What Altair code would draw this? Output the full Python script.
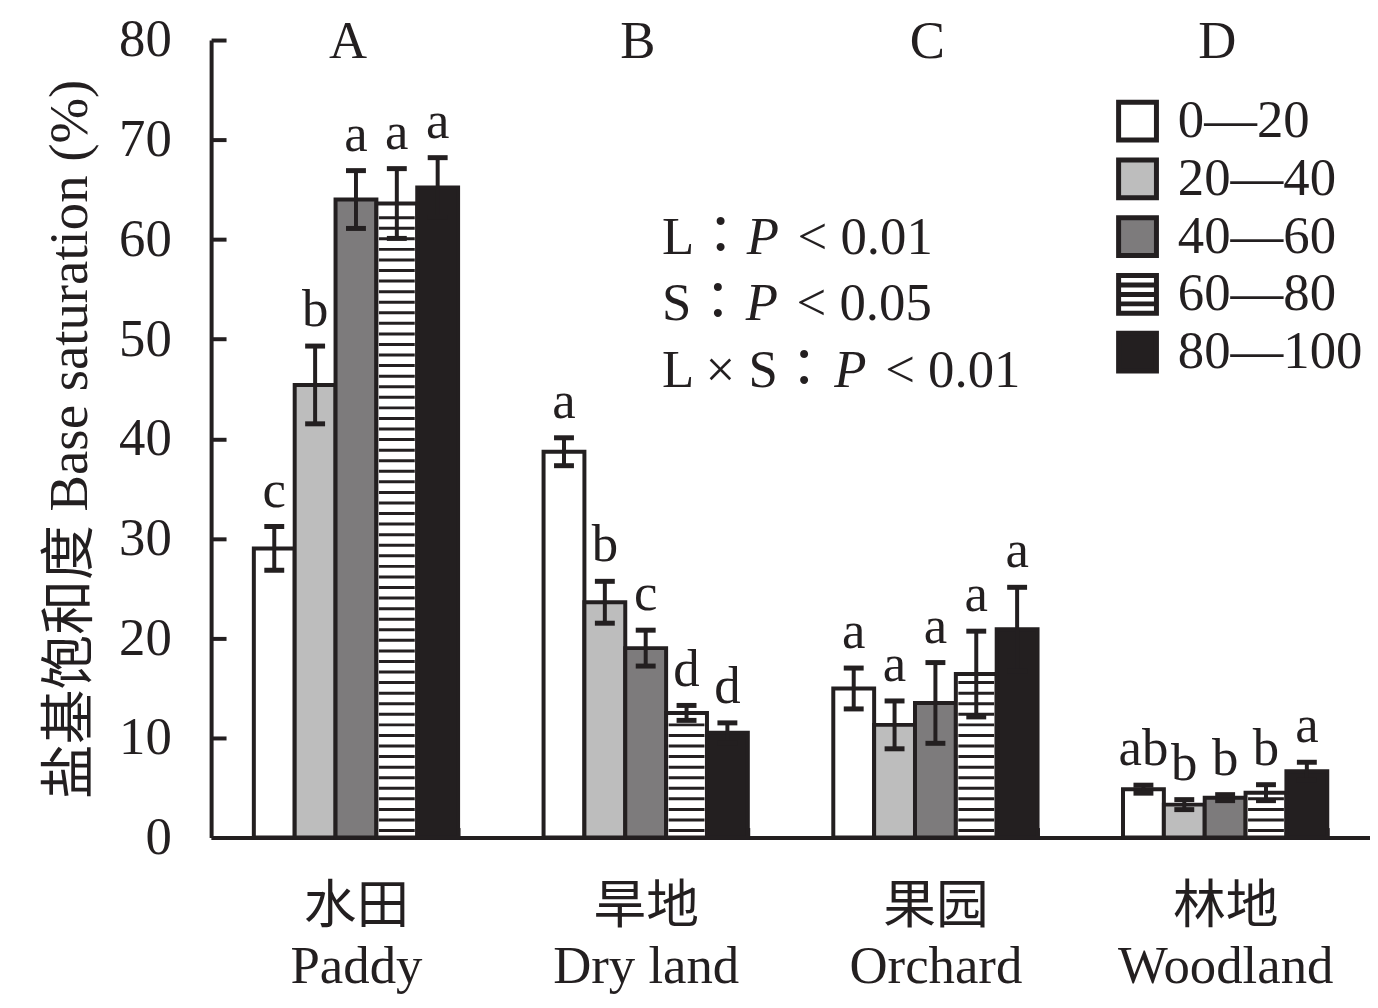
import altair as alt
import pandas as pd
import numpy as np

# ---------------- data ----------------
land_cn = ["水田", "旱地", "果园", "林地"]
land_en = ["Paddy", "Dry land", "Orchard", "Woodland"]
panel = ["A", "B", "C", "D"]
depths = ["0—20", "20—40", "40—60", "60—80", "80—100"]

paddy_mean = [29.0, 45.4, 64.0, 63.6, 65.2]
paddy_err = [2.2, 3.9, 2.9, 3.5, 3.0]
paddy_sig = ["c", "b", "a", "a", "a"]

dry_mean = [38.7, 23.6, 19.0, 12.5, 10.5]
dry_err = [1.4, 2.1, 1.8, 0.75, 1.0]
dry_sig = ["a", "b", "c", "d", "d"]

orch_mean = [14.95, 11.3, 13.5, 16.4, 20.9]
orch_err = [2.05, 2.4, 4.05, 4.3, 4.2]
orch_sig = ["a", "a", "a", "a", "a"]

wood_mean = [4.85, 3.3, 4.0, 4.5, 6.65]
wood_err = [0.4, 0.5, 0.3, 0.8, 0.9]
wood_sig = ["ab", "b", "b", "b", "a"]

y_ticks = [0, 10, 20, 30, 40, 50, 60, 70, 80]

# ---------------- styling ----------------
INK = "#231f20"
fill_colors = ["#ffffff", "#bdbdbd", "#7d7b7c", "#ffffff", INK]
sq = "M-1,-1H1V1H-1Z"
hatch_sq = "M-1,-1H1V1H-1Z M-1,-0.5H1 M-1,0H1 M-1,0.5H1"
shapes = [sq, sq, sq, hatch_sq, sq]
FONT = "Liberation Serif, Times New Roman, Noto Sans CJK SC"
FONT_ANN = "Liberation Serif, Times New Roman, Noto Sans CJK JP"
FS = 53

W, H = 1164, 801

labels = [f"{c}|{e}" for c, e in zip(land_cn, land_en)]
means = [paddy_mean, dry_mean, orch_mean, wood_mean]
errs = [paddy_err, dry_err, orch_err, wood_err]
sigs = [paddy_sig, dry_sig, orch_sig, wood_sig]

rows = []
for lab, m, e, s in zip(labels, means, errs, sigs):
    for d, mv, ev, sv in zip(depths, m, e, s):
        rows.append({"land": lab, "depth": d, "mean": mv, "lo": mv - ev, "hi": mv + ev, "sig": sv})
df = pd.DataFrame(rows)

# hatch stripes for the 60—80 layer (style only: derived from bar heights)
stripe_rows = []
for lab, m in zip(labels, means):
    v = m[3]
    for yv in np.arange(0.7, v - 0.6, 1.06):
        stripe_rows.append({"land": lab, "depth": depths[3], "y": float(yv)})
stripes_df = pd.DataFrame(stripe_rows)

panel_df = pd.DataFrame({"land": labels, "panel": panel})

xscale = alt.Scale(domain=labels, paddingInner=0.295, paddingOuter=0.1475)
xoff = alt.XOffset("depth:N", scale=alt.Scale(domain=depths, paddingInner=0, paddingOuter=0))
yscale = alt.Scale(domain=[0, 80], nice=False)

legend_def = alt.Legend(title=None, orient="none", legendX=904, legendY=55,
                        labelFontSize=FS, labelFont=FONT, labelColor=INK,
                        symbolSize=1444, labelOffset=14, rowPadding=-1,
                        padding=0, symbolOpacity=1, labelLimit=0,
                        symbolStrokeWidth=5)
fill_scale = alt.Scale(domain=depths, range=fill_colors)

base = alt.Chart(df)

# legend carrier (invisible points; the legend draws the symbols)
legend_pts = base.mark_point(filled=False, opacity=0, stroke=INK, strokeWidth=5).encode(
    x=alt.X("land:N", scale=xscale, sort=labels, axis=None),
    xOffset=xoff,
    y=alt.Y("mean:Q", scale=yscale, axis=None),
    fill=alt.Fill("depth:N", scale=fill_scale, legend=legend_def),
    shape=alt.Shape("depth:N", scale=alt.Scale(domain=depths, range=shapes),
                    legend=legend_def),
)

bars = base.mark_bar(stroke=INK, strokeWidth=4).encode(
    x=alt.X("land:N", scale=xscale, sort=labels, title=None,
            axis=alt.Axis(labelExpr="split(datum.label, '|')", labelAngle=0,
                          ticks=True, tickBand="extent", tickSize=alt.ExprRef("-10"),
                          tickWidth=4, tickColor=INK,
                          domain=True, domainWidth=4, domainColor=INK,
                          labelFontSize=FS, labelFont=FONT, labelColor=INK,
                          labelLimit=0, labelPadding=53, labelLineHeight=61,
                          labelBaseline="top")),
    xOffset=xoff,
    y=alt.Y("mean:Q", scale=yscale,
            title="盐基饱和度 Base saturation (%)",
            axis=alt.Axis(values=y_ticks, ticks=True, tickSize=alt.ExprRef("-15"),
                          tickWidth=4, tickColor=INK, domain=True, domainWidth=4,
                          domainColor=INK, labelFontSize=FS, labelFont=FONT,
                          labelColor=INK, labelPadding=55, grid=False,
                          titleFontSize=55, titleFont=FONT, titleFontWeight="normal",
                          titleColor=INK, titlePadding=20)),
    fill=alt.Fill("depth:N", scale=fill_scale, legend=legend_def),
)

stripes = alt.Chart(stripes_df).mark_tick(color=INK, thickness=3, size=36, opacity=1).encode(
    x=alt.X("land:N", scale=xscale, sort=labels, axis=None),
    xOffset=xoff,
    y=alt.Y("y:Q", scale=yscale, axis=None),
)

err_rule = base.mark_rule(color=INK, strokeWidth=4).encode(
    x=alt.X("land:N", scale=xscale, sort=labels, axis=None),
    xOffset=xoff,
    y=alt.Y("lo:Q", scale=yscale, axis=None),
    y2="hi:Q",
)

cap_hi = base.mark_tick(color=INK, thickness=5, size=20, opacity=1).encode(
    x=alt.X("land:N", scale=xscale, sort=labels, axis=None),
    xOffset=xoff,
    y=alt.Y("hi:Q", scale=yscale, axis=None),
)
cap_lo = base.mark_tick(color=INK, thickness=5, size=20, opacity=1).encode(
    x=alt.X("land:N", scale=xscale, sort=labels, axis=None),
    xOffset=xoff,
    y=alt.Y("lo:Q", scale=yscale, axis=None),
)

sig_text = base.mark_text(font=FONT, fontSize=FS, color=INK, baseline="alphabetic",
                          align="center", dy=-20).encode(
    x=alt.X("land:N", scale=xscale, sort=labels, axis=None),
    xOffset=xoff,
    y=alt.Y("hi:Q", scale=yscale, axis=None),
    text="sig:N",
)

panel_text = alt.Chart(panel_df).mark_text(font=FONT, fontSize=FS, color=INK,
                                           baseline="middle", align="center",
                                           dx=-8).encode(
    x=alt.X("land:N", scale=xscale, sort=labels, axis=None),
    y=alt.value(2),
    text="panel:N",
)

# statistics annotation
ann_prefix = ["L：", "S：", "L × S："]
ann_rest = ["< 0.01", "< 0.05", "< 0.01"]
ann_y = [199, 265, 332]
ann_px = [538, 537, 626]
ann_rx = [589, 588, 677]

ann_layers = []
for pre, rest, yy, px, rx in zip(ann_prefix, ann_rest, ann_y, ann_px, ann_rx):
    t = pd.DataFrame({"pre": [pre], "p": ["P"], "rest": [rest]})
    c = alt.Chart(t)
    ann_layers.append(c.mark_text(font=FONT_ANN, fontSize=FS, color=INK, align="left",
                                  baseline="middle").encode(
        x=alt.value(453), y=alt.value(yy), text="pre:N"))
    ann_layers.append(c.mark_text(font=FONT, fontSize=FS, color=INK, align="left",
                                  baseline="middle", fontStyle="italic").encode(
        x=alt.value(px), y=alt.value(yy), text="p:N"))
    ann_layers.append(c.mark_text(font=FONT, fontSize=FS, color=INK, align="left",
                                  baseline="middle").encode(
        x=alt.value(rx), y=alt.value(yy), text="rest:N"))

chart = alt.layer(
    legend_pts, bars, stripes, err_rule, cap_hi, cap_lo, sig_text, panel_text, *ann_layers
).resolve_axis(x="independent", y="independent").properties(
    width=W, height=H, background="white",
    padding={"left": 35, "top": 4, "right": 0, "bottom": 0},
).configure_view(strokeWidth=0)

chart.save("out.html", embed_options={"renderer": "svg", "actions": False})
